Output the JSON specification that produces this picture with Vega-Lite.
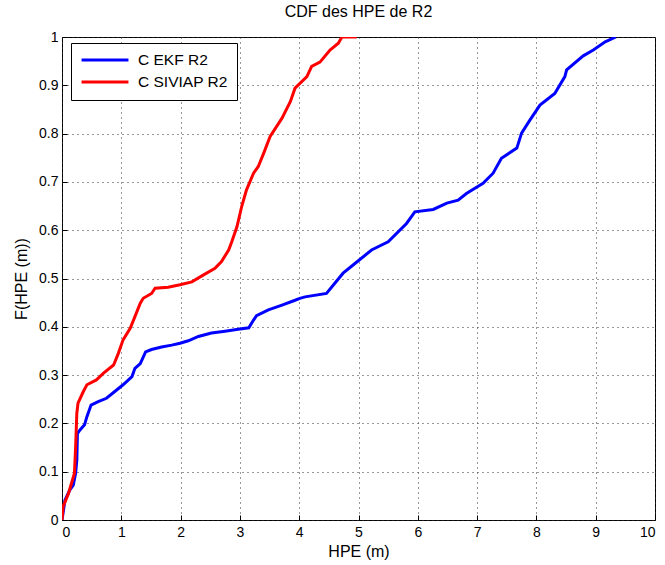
{
  "$schema": "https://vega.github.io/schema/vega-lite/v6.json",
  "autosize": "none",
  "width": 593,
  "height": 483,
  "padding": {"left": 62, "top": 37, "right": 10, "bottom": 45},
  "background": "white",
  "title": {"text": "CDF des HPE de R2", "font": "Liberation Sans", "fontSize": 16, "fontWeight": "normal", "color": "black", "offset": 10},
  "config": {
    "view": {"stroke": "black", "strokeWidth": 1},
    "axis": {
      "domain": false,
      "grid": true,
      "gridColor": "#333",
      "gridDash": [1, 4],
      "gridWidth": 1,
      "tickColor": "black",
      "tickSize": -5,
      "labelPadding": 9,
      "labelFont": "Liberation Sans",
      "labelFontSize": 14,
      "labelColor": "black",
      "titleFont": "Liberation Sans",
      "titleFontSize": 16,
      "titleFontWeight": "normal",
      "titleColor": "black"
    }
  },
  "data": {"values": [
    {"s": "C EKF R2", "i": 0, "x": 0, "y": 0},
    {"s": "C EKF R2", "i": 1, "x": 0.05, "y": 0.041},
    {"s": "C EKF R2", "i": 2, "x": 0.13, "y": 0.062},
    {"s": "C EKF R2", "i": 3, "x": 0.19, "y": 0.072},
    {"s": "C EKF R2", "i": 4, "x": 0.23, "y": 0.097},
    {"s": "C EKF R2", "i": 5, "x": 0.25, "y": 0.124},
    {"s": "C EKF R2", "i": 6, "x": 0.26, "y": 0.179},
    {"s": "C EKF R2", "i": 7, "x": 0.30, "y": 0.186},
    {"s": "C EKF R2", "i": 8, "x": 0.38, "y": 0.197},
    {"s": "C EKF R2", "i": 9, "x": 0.42, "y": 0.214},
    {"s": "C EKF R2", "i": 10, "x": 0.49, "y": 0.238},
    {"s": "C EKF R2", "i": 11, "x": 0.61, "y": 0.245},
    {"s": "C EKF R2", "i": 12, "x": 0.75, "y": 0.252},
    {"s": "C EKF R2", "i": 13, "x": 0.89, "y": 0.266},
    {"s": "C EKF R2", "i": 14, "x": 1.03, "y": 0.280},
    {"s": "C EKF R2", "i": 15, "x": 1.18, "y": 0.297},
    {"s": "C EKF R2", "i": 16, "x": 1.23, "y": 0.314},
    {"s": "C EKF R2", "i": 17, "x": 1.32, "y": 0.324},
    {"s": "C EKF R2", "i": 18, "x": 1.41, "y": 0.348},
    {"s": "C EKF R2", "i": 19, "x": 1.51, "y": 0.353},
    {"s": "C EKF R2", "i": 20, "x": 1.68, "y": 0.358},
    {"s": "C EKF R2", "i": 21, "x": 1.85, "y": 0.362},
    {"s": "C EKF R2", "i": 22, "x": 1.99, "y": 0.366},
    {"s": "C EKF R2", "i": 23, "x": 2.13, "y": 0.371},
    {"s": "C EKF R2", "i": 24, "x": 2.30, "y": 0.380},
    {"s": "C EKF R2", "i": 25, "x": 2.52, "y": 0.387},
    {"s": "C EKF R2", "i": 26, "x": 2.75, "y": 0.391},
    {"s": "C EKF R2", "i": 27, "x": 2.97, "y": 0.395},
    {"s": "C EKF R2", "i": 28, "x": 3.15, "y": 0.398},
    {"s": "C EKF R2", "i": 29, "x": 3.23, "y": 0.414},
    {"s": "C EKF R2", "i": 30, "x": 3.28, "y": 0.423},
    {"s": "C EKF R2", "i": 31, "x": 3.48, "y": 0.435},
    {"s": "C EKF R2", "i": 32, "x": 3.71, "y": 0.445},
    {"s": "C EKF R2", "i": 33, "x": 3.93, "y": 0.455},
    {"s": "C EKF R2", "i": 34, "x": 4.01, "y": 0.459},
    {"s": "C EKF R2", "i": 35, "x": 4.10, "y": 0.462},
    {"s": "C EKF R2", "i": 36, "x": 4.46, "y": 0.469},
    {"s": "C EKF R2", "i": 37, "x": 4.74, "y": 0.511},
    {"s": "C EKF R2", "i": 38, "x": 4.94, "y": 0.531},
    {"s": "C EKF R2", "i": 39, "x": 5.22, "y": 0.559},
    {"s": "C EKF R2", "i": 40, "x": 5.50, "y": 0.576},
    {"s": "C EKF R2", "i": 41, "x": 5.81, "y": 0.614},
    {"s": "C EKF R2", "i": 42, "x": 5.95, "y": 0.638},
    {"s": "C EKF R2", "i": 43, "x": 6.26, "y": 0.643},
    {"s": "C EKF R2", "i": 44, "x": 6.49, "y": 0.656},
    {"s": "C EKF R2", "i": 45, "x": 6.68, "y": 0.662},
    {"s": "C EKF R2", "i": 46, "x": 6.82, "y": 0.676},
    {"s": "C EKF R2", "i": 47, "x": 7.10, "y": 0.697},
    {"s": "C EKF R2", "i": 48, "x": 7.27, "y": 0.718},
    {"s": "C EKF R2", "i": 49, "x": 7.41, "y": 0.749},
    {"s": "C EKF R2", "i": 50, "x": 7.67, "y": 0.770},
    {"s": "C EKF R2", "i": 51, "x": 7.75, "y": 0.801},
    {"s": "C EKF R2", "i": 52, "x": 7.89, "y": 0.828},
    {"s": "C EKF R2", "i": 53, "x": 8.06, "y": 0.859},
    {"s": "C EKF R2", "i": 54, "x": 8.31, "y": 0.883},
    {"s": "C EKF R2", "i": 55, "x": 8.48, "y": 0.918},
    {"s": "C EKF R2", "i": 56, "x": 8.51, "y": 0.932},
    {"s": "C EKF R2", "i": 57, "x": 8.79, "y": 0.961},
    {"s": "C EKF R2", "i": 58, "x": 8.96, "y": 0.973},
    {"s": "C EKF R2", "i": 59, "x": 9.16, "y": 0.990},
    {"s": "C EKF R2", "i": 60, "x": 9.34, "y": 1.0},
    {"s": "C SIVIAP R2", "i": 0, "x": 0, "y": 0},
    {"s": "C SIVIAP R2", "i": 1, "x": 0.02, "y": 0.028},
    {"s": "C SIVIAP R2", "i": 2, "x": 0.11, "y": 0.055},
    {"s": "C SIVIAP R2", "i": 3, "x": 0.16, "y": 0.076},
    {"s": "C SIVIAP R2", "i": 4, "x": 0.21, "y": 0.097},
    {"s": "C SIVIAP R2", "i": 5, "x": 0.23, "y": 0.152},
    {"s": "C SIVIAP R2", "i": 6, "x": 0.25, "y": 0.221},
    {"s": "C SIVIAP R2", "i": 7, "x": 0.27, "y": 0.242},
    {"s": "C SIVIAP R2", "i": 8, "x": 0.36, "y": 0.266},
    {"s": "C SIVIAP R2", "i": 9, "x": 0.42, "y": 0.280},
    {"s": "C SIVIAP R2", "i": 10, "x": 0.58, "y": 0.290},
    {"s": "C SIVIAP R2", "i": 11, "x": 0.70, "y": 0.304},
    {"s": "C SIVIAP R2", "i": 12, "x": 0.87, "y": 0.321},
    {"s": "C SIVIAP R2", "i": 13, "x": 0.95, "y": 0.345},
    {"s": "C SIVIAP R2", "i": 14, "x": 1.03, "y": 0.373},
    {"s": "C SIVIAP R2", "i": 15, "x": 1.15, "y": 0.397},
    {"s": "C SIVIAP R2", "i": 16, "x": 1.23, "y": 0.421},
    {"s": "C SIVIAP R2", "i": 17, "x": 1.32, "y": 0.449},
    {"s": "C SIVIAP R2", "i": 18, "x": 1.37, "y": 0.459},
    {"s": "C SIVIAP R2", "i": 19, "x": 1.51, "y": 0.469},
    {"s": "C SIVIAP R2", "i": 20, "x": 1.57, "y": 0.480},
    {"s": "C SIVIAP R2", "i": 21, "x": 1.79, "y": 0.482},
    {"s": "C SIVIAP R2", "i": 22, "x": 1.99, "y": 0.487},
    {"s": "C SIVIAP R2", "i": 23, "x": 2.19, "y": 0.493},
    {"s": "C SIVIAP R2", "i": 24, "x": 2.38, "y": 0.507},
    {"s": "C SIVIAP R2", "i": 25, "x": 2.58, "y": 0.521},
    {"s": "C SIVIAP R2", "i": 26, "x": 2.69, "y": 0.535},
    {"s": "C SIVIAP R2", "i": 27, "x": 2.81, "y": 0.559},
    {"s": "C SIVIAP R2", "i": 28, "x": 2.86, "y": 0.575},
    {"s": "C SIVIAP R2", "i": 29, "x": 2.95, "y": 0.607},
    {"s": "C SIVIAP R2", "i": 30, "x": 3.03, "y": 0.649},
    {"s": "C SIVIAP R2", "i": 31, "x": 3.11, "y": 0.683},
    {"s": "C SIVIAP R2", "i": 32, "x": 3.23, "y": 0.718},
    {"s": "C SIVIAP R2", "i": 33, "x": 3.31, "y": 0.732},
    {"s": "C SIVIAP R2", "i": 34, "x": 3.40, "y": 0.759},
    {"s": "C SIVIAP R2", "i": 35, "x": 3.51, "y": 0.794},
    {"s": "C SIVIAP R2", "i": 36, "x": 3.71, "y": 0.832},
    {"s": "C SIVIAP R2", "i": 37, "x": 3.85, "y": 0.866},
    {"s": "C SIVIAP R2", "i": 38, "x": 3.93, "y": 0.894},
    {"s": "C SIVIAP R2", "i": 39, "x": 4.13, "y": 0.918},
    {"s": "C SIVIAP R2", "i": 40, "x": 4.21, "y": 0.939},
    {"s": "C SIVIAP R2", "i": 41, "x": 4.35, "y": 0.948},
    {"s": "C SIVIAP R2", "i": 42, "x": 4.52, "y": 0.973},
    {"s": "C SIVIAP R2", "i": 43, "x": 4.66, "y": 0.987},
    {"s": "C SIVIAP R2", "i": 44, "x": 4.72, "y": 1.0},
    {"s": "C SIVIAP R2", "i": 45, "x": 4.97, "y": 1.0}
  ]},
  "mark": {"type": "line", "strokeWidth": 3, "clip": true},
  "encoding": {
    "x": {"field": "x", "type": "quantitative", "title": "HPE (m)",
      "scale": {"domain": [0, 10], "nice": false},
      "axis": {"values": [0,1,2,3,4,5,6,7,8,9,10], "labelPadding": 10, "titlePadding": 4}},
    "y": {"field": "y", "type": "quantitative", "title": "F(HPE (m))",
      "scale": {"domain": [0, 1], "nice": false},
      "axis": {"values": [0,0.1,0.2,0.3,0.4,0.5,0.6,0.7,0.8,0.9,1], "format": "~g", "titlePadding": 9}},
    "order": {"field": "i", "type": "quantitative"},
    "color": {"field": "s", "type": "nominal",
      "scale": {"domain": ["C EKF R2", "C SIVIAP R2"], "range": ["#0000ff", "#ff0000"]},
      "legend": {
        "title": null,
        "orient": "none",
        "legendX": 9,
        "legendY": 6,
        "symbolType": "stroke",
        "symbolSize": 2200,
        "symbolStrokeWidth": 3,
        "clipHeight": 16,
        "labelFont": "Liberation Sans",
        "labelFontSize": 15.5,
        "labelColor": "black",
        "labelOffset": 8,
        "rowPadding": 5,
        "padding": 9,
        "strokeColor": "black",
        "fillColor": "white",
        "cornerRadius": 0
      }}
  }
}
